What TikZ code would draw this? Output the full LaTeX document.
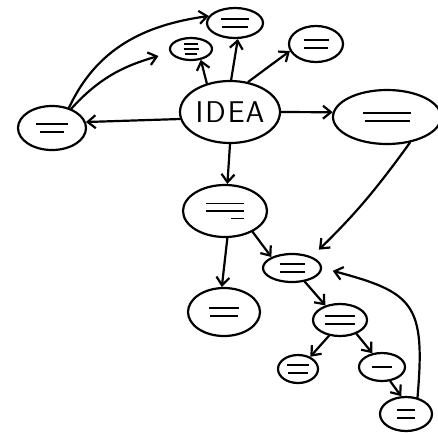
\documentclass[tikz,border=0pt]{standalone}
\usepackage{tikz}
\usetikzlibrary{shapes.geometric}
\usetikzlibrary{arrows.meta}

\begin{document}
\begin{tikzpicture}[x=1pt,y=1pt,line width=2.2pt,line cap=round,line join=round,
    >={Straight Barb[length=8pt,width=13pt]},
    bubble/.style={draw,ellipse,inner sep=0pt,align=center,font=\fontsize{7}{7.5}\selectfont}]
				\useasboundingbox (0,0) rectangle (438,-432);
				\node[bubble,minimum width=100pt,minimum height=62pt,font=\sffamily\fontsize{30}{30}\selectfont] (n0) at (230,-112) {I\kern2pt D\kern2pt E\kern1pt A};
				\node[bubble,minimum width=56pt,minimum height=30pt] (n1) at (235,-23) {\rule{28pt}{1.8pt}\\\rule{26pt}{1.8pt}};
				\node[bubble,minimum width=42pt,minimum height=22pt,font=\fontsize{5}{5}\selectfont] (n2) at (191,-49) {\rule{14pt}{1.8pt}\\\rule{15pt}{1.8pt}\\\rule{12pt}{1.8pt}};
				\node[bubble,minimum width=54pt,minimum height=36pt] (n3) at (316,-44) {\rule{25pt}{1.8pt}\\\rule{24pt}{1.8pt}};
				\node[bubble,minimum width=68pt,minimum height=44pt] (n4) at (52,-128) {\rule{32pt}{1.8pt}\\\rule{24pt}{1.8pt}};
				\node[bubble,minimum width=108pt,minimum height=54pt] (n5) at (387,-117) {\rule{48pt}{1.8pt}\\\rule{45pt}{1.8pt}};
				\node[bubble,minimum width=84pt,minimum height=52pt] (n6) at (225,-211) {\rule{38pt}{1.8pt}\\\rule{38pt}{1.8pt}\\\hspace*{25pt}\rule{13pt}{1.8pt}};
				\node[bubble,minimum width=72pt,minimum height=48pt] (n7) at (224,-312) {\rule{30pt}{1.8pt}\\\rule{28pt}{1.8pt}};
				\node[bubble,minimum width=58pt,minimum height=28pt] (n8) at (292,-268) {\rule{25pt}{1.8pt}\\\rule{25pt}{1.8pt}};
				\node[bubble,minimum width=54pt,minimum height=32pt] (n9) at (340,-320) {\rule{30pt}{1.8pt}\\\rule{30pt}{1.8pt}};
				\node[bubble,minimum width=40pt,minimum height=28pt] (n10) at (298,-369) {\rule{22pt}{1.8pt}\\\rule{20pt}{1.8pt}};
				\node[bubble,minimum width=46pt,minimum height=28pt] (n11) at (382,-367) {\rule{20pt}{1.8pt}};
				\node[bubble,minimum width=52pt,minimum height=34pt] (n12) at (406,-414) {\rule{18pt}{1.8pt}\\\rule{18pt}{1.8pt}};
				\draw (n0.88) edge [->] (n1.-80);
				\draw (n0.129) edge [->] (n2.-48);
				\draw (n0.59) edge [->] (n3.195);
				\draw (n0.188) edge [->] (n4.10);
				\draw (n0.east) edge [->] (n5.175);
				\draw (n0.south) edge [->] (n6.85);
				\draw (n4.50) edge [->, out=65, in=188] (n1.165);
				\draw (n4.45) edge [->, out=48, in=196, shorten >=12pt] (n2.190);
				\draw (n5.-48) edge [->, bend left=5, shorten >=10pt] (n8.30);
				\draw (n6.-37) edge [->] (n8.152);
				\draw (n6.-85) edge [->] (n7.95);
				\draw (n8.-47) edge [->] (n9.135);
				\draw (n9.-125) edge [->] (n10.45);
				\draw (n9.-40) edge [->] (n11.125);
				\draw (n11.-60) edge [->] (n12.105);
				\draw (n12.55) edge [->, out=85, in=-15, looseness=1.5, shorten >=11pt] (n8.east);
			\end{tikzpicture}
\end{document}
